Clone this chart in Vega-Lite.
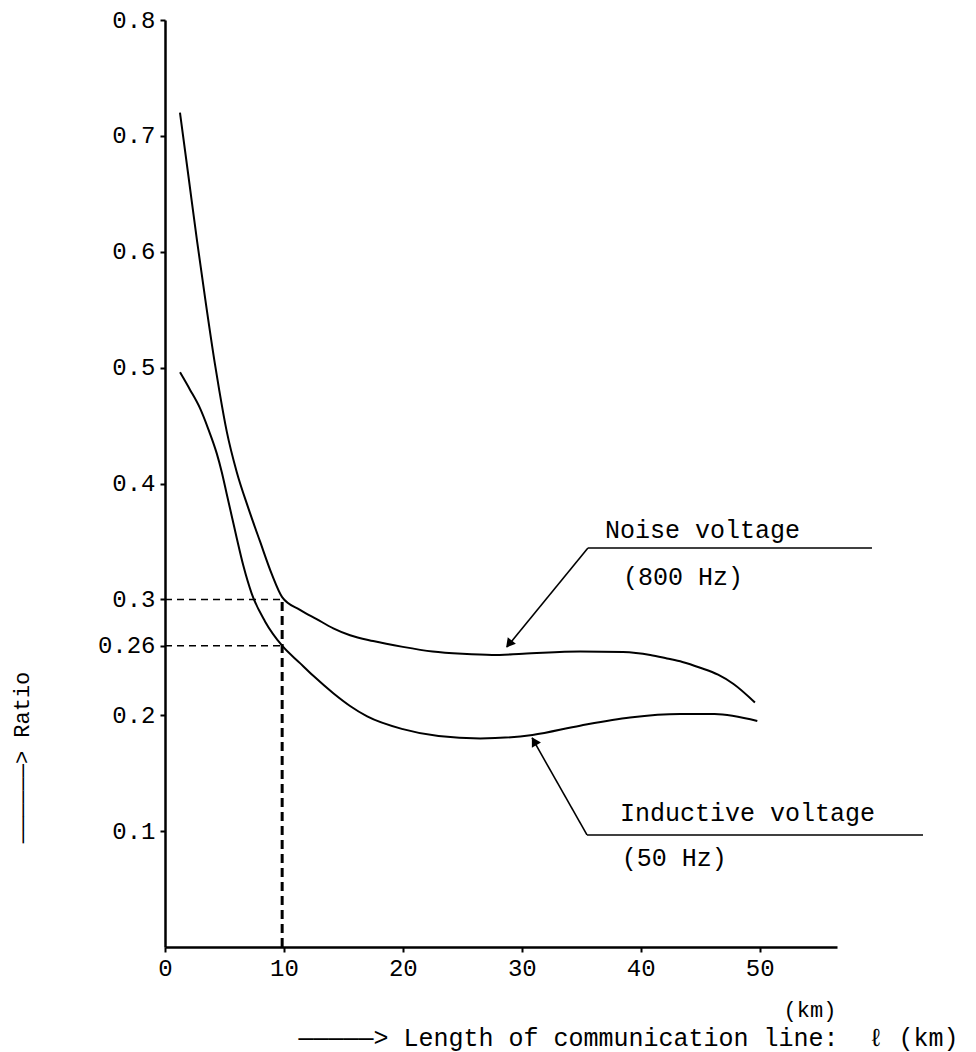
{
  "$schema": "https://vega.github.io/schema/vega-lite/v6.json",
  "width": 672,
  "height": 927,
  "autosize": {"type": "none"},
  "padding": {"left": 165, "top": 20, "right": 139, "bottom": 105},
  "background": "white",
  "config": {
    "view": {"stroke": null},
    "font": "Liberation Mono",
    "axis": {
      "grid": false,
      "domainColor": "black",
      "domainWidth": 2.5,
      "tickColor": "black",
      "tickWidth": 2,
      "tickSize": 5,
      "labelFont": "Liberation Mono",
      "labelFontSize": 24,
      "labelColor": "black",
      "labelOverlap": false,
      "labelFlush": false,
      "titleFont": "Liberation Mono",
      "titleFontWeight": "normal",
      "titleColor": "black"
    }
  },
  "datasets": {
    "curves": [
      {"series": "Noise voltage (800 Hz)", "km": 1.26, "ratio": 0.72},
      {"series": "Noise voltage (800 Hz)", "km": 2.0, "ratio": 0.663},
      {"series": "Noise voltage (800 Hz)", "km": 2.7, "ratio": 0.609},
      {"series": "Noise voltage (800 Hz)", "km": 3.4, "ratio": 0.558},
      {"series": "Noise voltage (800 Hz)", "km": 4.2, "ratio": 0.503},
      {"series": "Noise voltage (800 Hz)", "km": 4.57, "ratio": 0.48},
      {"series": "Noise voltage (800 Hz)", "km": 5.19, "ratio": 0.445},
      {"series": "Noise voltage (800 Hz)", "km": 6.03, "ratio": 0.41},
      {"series": "Noise voltage (800 Hz)", "km": 7.0, "ratio": 0.379},
      {"series": "Noise voltage (800 Hz)", "km": 7.99, "ratio": 0.35},
      {"series": "Noise voltage (800 Hz)", "km": 8.97, "ratio": 0.322},
      {"series": "Noise voltage (800 Hz)", "km": 9.85, "ratio": 0.302},
      {"series": "Noise voltage (800 Hz)", "km": 11.35, "ratio": 0.291},
      {"series": "Noise voltage (800 Hz)", "km": 12.75, "ratio": 0.283},
      {"series": "Noise voltage (800 Hz)", "km": 14.15, "ratio": 0.275},
      {"series": "Noise voltage (800 Hz)", "km": 15.56, "ratio": 0.269},
      {"series": "Noise voltage (800 Hz)", "km": 17.5, "ratio": 0.264},
      {"series": "Noise voltage (800 Hz)", "km": 20.0, "ratio": 0.259},
      {"series": "Noise voltage (800 Hz)", "km": 22.5, "ratio": 0.255},
      {"series": "Noise voltage (800 Hz)", "km": 25.0, "ratio": 0.253},
      {"series": "Noise voltage (800 Hz)", "km": 27.5, "ratio": 0.252},
      {"series": "Noise voltage (800 Hz)", "km": 30.1, "ratio": 0.253},
      {"series": "Noise voltage (800 Hz)", "km": 34.9, "ratio": 0.255},
      {"series": "Noise voltage (800 Hz)", "km": 38.5, "ratio": 0.2545},
      {"series": "Noise voltage (800 Hz)", "km": 40.8, "ratio": 0.252},
      {"series": "Noise voltage (800 Hz)", "km": 42.2, "ratio": 0.249},
      {"series": "Noise voltage (800 Hz)", "km": 43.5, "ratio": 0.246},
      {"series": "Noise voltage (800 Hz)", "km": 45.0, "ratio": 0.241},
      {"series": "Noise voltage (800 Hz)", "km": 46.5, "ratio": 0.235},
      {"series": "Noise voltage (800 Hz)", "km": 47.8, "ratio": 0.227},
      {"series": "Noise voltage (800 Hz)", "km": 49.6, "ratio": 0.211},
      {"series": "Inductive voltage (50 Hz)", "km": 1.26, "ratio": 0.496},
      {"series": "Inductive voltage (50 Hz)", "km": 2.1, "ratio": 0.481},
      {"series": "Inductive voltage (50 Hz)", "km": 2.94, "ratio": 0.465},
      {"series": "Inductive voltage (50 Hz)", "km": 3.64, "ratio": 0.447},
      {"series": "Inductive voltage (50 Hz)", "km": 4.35, "ratio": 0.426},
      {"series": "Inductive voltage (50 Hz)", "km": 4.77, "ratio": 0.41},
      {"series": "Inductive voltage (50 Hz)", "km": 5.19, "ratio": 0.391},
      {"series": "Inductive voltage (50 Hz)", "km": 5.61, "ratio": 0.372},
      {"series": "Inductive voltage (50 Hz)", "km": 6.03, "ratio": 0.353},
      {"series": "Inductive voltage (50 Hz)", "km": 6.59, "ratio": 0.329},
      {"series": "Inductive voltage (50 Hz)", "km": 7.29, "ratio": 0.305},
      {"series": "Inductive voltage (50 Hz)", "km": 8.41, "ratio": 0.281},
      {"series": "Inductive voltage (50 Hz)", "km": 9.85, "ratio": 0.26},
      {"series": "Inductive voltage (50 Hz)", "km": 11.35, "ratio": 0.245},
      {"series": "Inductive voltage (50 Hz)", "km": 12.47, "ratio": 0.234},
      {"series": "Inductive voltage (50 Hz)", "km": 14.15, "ratio": 0.219},
      {"series": "Inductive voltage (50 Hz)", "km": 15.56, "ratio": 0.208},
      {"series": "Inductive voltage (50 Hz)", "km": 17.0, "ratio": 0.199},
      {"series": "Inductive voltage (50 Hz)", "km": 20.0, "ratio": 0.188},
      {"series": "Inductive voltage (50 Hz)", "km": 23.0, "ratio": 0.182},
      {"series": "Inductive voltage (50 Hz)", "km": 26.5, "ratio": 0.18},
      {"series": "Inductive voltage (50 Hz)", "km": 30.9, "ratio": 0.183},
      {"series": "Inductive voltage (50 Hz)", "km": 34.9, "ratio": 0.191},
      {"series": "Inductive voltage (50 Hz)", "km": 39.1, "ratio": 0.198},
      {"series": "Inductive voltage (50 Hz)", "km": 43.3, "ratio": 0.201},
      {"series": "Inductive voltage (50 Hz)", "km": 46.2, "ratio": 0.201},
      {"series": "Inductive voltage (50 Hz)", "km": 49.8, "ratio": 0.195}
    ],
    "hdash": [
      {"km": 0, "km2": 9.85, "ratio": 0.3},
      {"km": 0, "km2": 9.85, "ratio": 0.26}
    ],
    "vdash": [
      {"km": 9.85, "ratio": 0, "ratio2": 0.3}
    ],
    "leaders": [
      {"km": 35.56, "ratio": 0.3443, "km2": 59.44, "ratio2": 0.3443},
      {"km": 35.56, "ratio": 0.3443, "km2": 28.75, "ratio2": 0.2589},
      {"km": 35.48, "ratio": 0.0967, "km2": 63.73, "ratio2": 0.0967},
      {"km": 35.48, "ratio": 0.0967, "km2": 30.86, "ratio2": 0.1804}
    ],
    "headNoise": [{"km": 29.0, "ratio": 0.2625}],
    "headInductive": [{"km": 31.1, "ratio": 0.1765}],
    "labels": [
      {"km": 37.0, "ratio": 0.36, "label": "Noise voltage"},
      {"km": 38.5, "ratio": 0.3193, "label": "(800 Hz)"},
      {"km": 38.25, "ratio": 0.1156, "label": "Inductive voltage"},
      {"km": 38.4, "ratio": 0.0768, "label": "(50 Hz)"}
    ],
    "unit": [{"km": 54.23, "ratio": -0.0544, "label": "(km)"}]
  },
  "encoding": {
    "x": {
      "field": "km",
      "type": "quantitative",
      "scale": {"domain": [0, 56.5], "nice": false, "zero": false},
      "axis": {
        "values": [0, 10, 20, 30, 40, 50],
        "labelPadding": 4,
        "title": "—————> Length of communication line:\u00a0\u00a0ℓ (km)",
        "titleFontSize": 25,
        "titleX": 463,
        "titleY": 90,
        "titleAlign": "center",
        "titleBaseline": "middle"
      }
    },
    "y": {
      "field": "ratio",
      "type": "quantitative",
      "scale": {"domain": [0, 0.8], "nice": false},
      "axis": {
        "values": [0.1, 0.2, 0.26, 0.3, 0.4, 0.5, 0.6, 0.7, 0.8],
        "format": ".2~f",
        "labelPadding": 5,
        "title": "——————> Ratio",
        "titleFontSize": 22,
        "titleAngle": 270,
        "titleX": -144,
        "titleY": 737,
        "titleAlign": "center",
        "titleBaseline": "middle"
      }
    }
  },
  "layer": [
    {
      "data": {"name": "curves"},
      "mark": {"type": "line", "color": "black", "strokeWidth": 2, "interpolate": "monotone"},
      "encoding": {"detail": {"field": "series"}}
    },
    {
      "data": {"name": "hdash"},
      "mark": {"type": "rule", "color": "black", "strokeWidth": 1.5, "strokeDash": [7, 5]},
      "encoding": {"x2": {"field": "km2"}}
    },
    {
      "data": {"name": "vdash"},
      "mark": {"type": "rule", "color": "black", "strokeWidth": 3, "strokeDash": [9, 5]},
      "encoding": {"y2": {"field": "ratio2"}}
    },
    {
      "data": {"name": "leaders"},
      "mark": {"type": "rule", "color": "black", "strokeWidth": 1.6},
      "encoding": {"x2": {"field": "km2"}, "y2": {"field": "ratio2"}}
    },
    {
      "data": {"name": "headNoise"},
      "mark": {"type": "point", "shape": "triangle", "filled": true, "color": "black", "size": 110, "angle": 219, "opacity": 1}
    },
    {
      "data": {"name": "headInductive"},
      "mark": {"type": "point", "shape": "triangle", "filled": true, "color": "black", "size": 110, "angle": 330, "opacity": 1}
    },
    {
      "data": {"name": "labels"},
      "mark": {"type": "text", "align": "left", "baseline": "middle", "fontSize": 25, "font": "Liberation Mono", "color": "black"},
      "encoding": {"text": {"field": "label"}}
    },
    {
      "data": {"name": "unit"},
      "mark": {"type": "text", "align": "center", "baseline": "middle", "fontSize": 22, "font": "Liberation Mono", "color": "black"},
      "encoding": {"text": {"field": "label"}}
    }
  ]
}
